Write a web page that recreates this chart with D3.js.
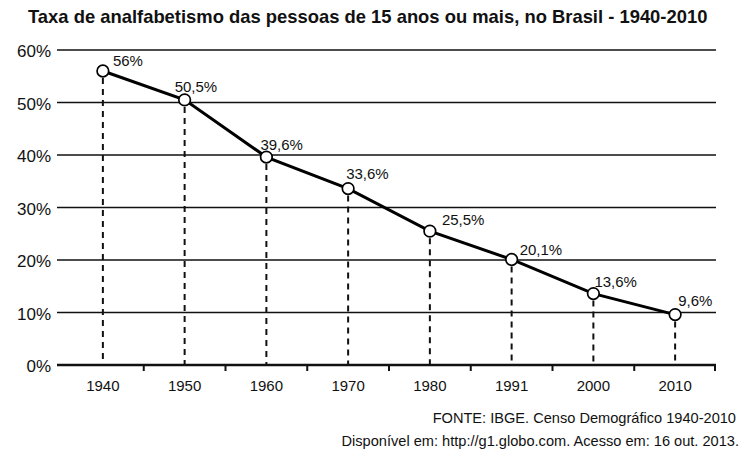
<!DOCTYPE html>
<html>
<head>
<meta charset="utf-8">
<script src="https://cdn.jsdelivr.net/npm/d3@7"></script>
<style>
  html, body { margin: 0; padding: 0; background: #fff; }
  svg { display: block; font-family: "Liberation Sans", Arial, sans-serif; }
</style>
</head>
<body>
<svg id="chart" width="743" height="453"></svg>
<script>
const years = ["1940", "1950", "1960", "1970", "1980", "1991", "2000", "2010"];
const rates = [56, 50.5, 39.6, 33.6, 25.5, 20.1, 13.6, 9.6];
const valueLabels = ["56%", "50,5%", "39,6%", "33,6%", "25,5%", "20,1%", "13,6%", "9,6%"];
const yTicks = [0, 10, 20, 30, 40, 50, 60];
const titleText = "Taxa de analfabetismo das pessoas de 15 anos ou mais, no Brasil - 1940-2010";
const sourceText = "FONTE: IBGE. Censo Demográfico 1940-2010";
const accessText = "Disponível em: http://g1.globo.com. Acesso em: 16 out. 2013.";

// label placement offsets (layout only)
const labelOffsets = [[10, -5], [-10, -8], [-6, -7], [-2, -10], [12, -6], [8, -4], [1, -7], [3, -9]];

const svg = d3.select("#chart");
const axisLeft = 57, axisRight = 716;

const x = d3.scaleBand().domain(years).range([62, 716]).paddingInner(0).paddingOuter(0);
const y = d3.scaleLinear().domain([0, 60]).range([365, 50]);

// title
svg.append("text")
  .attr("x", 28).attr("y", 23)
  .style("font-size", "18.4px").attr("font-weight", "bold").attr("fill", "#111")
  .text(titleText);

// gridlines
svg.append("g").selectAll("line").data(yTicks.filter(d => d > 0)).join("line")
  .attr("x1", axisLeft).attr("x2", axisRight)
  .attr("y1", d => y(d)).attr("y2", d => y(d))
  .attr("stroke", "#111").attr("stroke-width", 1.6);

// y labels
svg.append("g").selectAll("text").data(yTicks).join("text")
  .attr("x", 51).attr("y", d => y(d) + 7)
  .attr("text-anchor", "end").style("font-size", "17px").attr("fill", "#111")
  .text(d => d + "%");

// x axis
const xAxis = d3.axisBottom(x).tickSize(0).tickFormat(d => d);
const gx = svg.append("g").attr("transform", `translate(0,${y(0)})`).call(xAxis);
gx.select(".domain").remove();
gx.attr("font-size", null).attr("font-family", null);
gx.selectAll("text").style("font-size", "15px").attr("fill", "#111")
  .attr("dy", 0).attr("y", 26);

svg.append("line")
  .attr("x1", axisLeft).attr("x2", axisRight)
  .attr("y1", y(0)).attr("y2", y(0))
  .attr("stroke", "#111").attr("stroke-width", 2.5);

// tick marks at band boundaries
svg.append("g").selectAll("line").data(years.slice(1).concat(["end"])).join("line")
  .attr("x1", d => d === "end" ? axisRight - 1 : x(d))
  .attr("x2", d => d === "end" ? axisRight - 1 : x(d))
  .attr("y1", y(0)).attr("y2", y(0) + 6)
  .attr("stroke", "#111").attr("stroke-width", 2);

const cx = d => x(d) + x.bandwidth() / 2;
const pts = years.map((yr, i) => ({ yr, v: rates[i], label: valueLabels[i], off: labelOffsets[i] }));

// dashed drop lines
svg.append("g").selectAll("line").data(pts).join("line")
  .attr("x1", d => cx(d.yr)).attr("x2", d => cx(d.yr))
  .attr("y1", d => y(d.v) + 7).attr("y2", y(0))
  .attr("stroke", "#111").attr("stroke-width", 2)
  .attr("stroke-dasharray", "6,5");

// line
svg.append("path").datum(pts)
  .attr("d", d3.line().x(d => cx(d.yr)).y(d => y(d.v)))
  .attr("fill", "none").attr("stroke", "#000").attr("stroke-width", 3);

// points
svg.append("g").selectAll("circle").data(pts).join("circle")
  .attr("cx", d => cx(d.yr)).attr("cy", d => y(d.v)).attr("r", 5.8)
  .attr("fill", "#fff").attr("stroke", "#000").attr("stroke-width", 1.7);

// value labels
svg.append("g").selectAll("text").data(pts).join("text")
  .attr("x", d => cx(d.yr) + d.off[0]).attr("y", d => y(d.v) + d.off[1])
  .style("font-size", "15px").attr("fill", "#111")
  .text(d => d.label);

// footer
svg.append("text").attr("x", 736).attr("y", 423).attr("text-anchor", "end")
  .style("font-size", "14.6px").attr("fill", "#111").text(sourceText);
svg.append("text").attr("x", 739).attr("y", 446).attr("text-anchor", "end")
  .style("font-size", "14.6px").attr("fill", "#111").text(accessText);
</script>
</body>
</html>
